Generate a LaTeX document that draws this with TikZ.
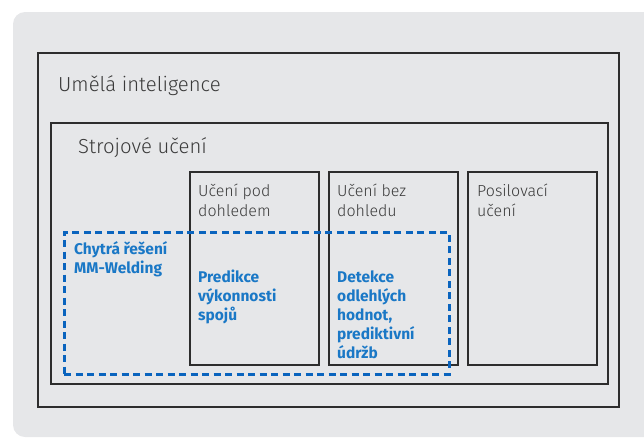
\documentclass[tikz,border=0pt]{standalone}
\usepackage{fontspec}
\setmainfont{Fira Sans}
\newfontfamily\lightfont{Fira Sans Light}
\definecolor{bgfill}{HTML}{E6E7E9}
\definecolor{boxline}{HTML}{2D2D2D}
\definecolor{graytext}{HTML}{3A3A3A}
\definecolor{dashblue}{HTML}{0A64BE}
\definecolor{bluetext}{HTML}{1A78C6}
\begin{document}
\begin{tikzpicture}[x=1pt,y=-1pt,
  box/.style={draw=boxline, line width=1.2pt, inner sep=0pt, outer sep=0pt, rectangle},
  bigtext/.style={font=\lightfont\fontsize{20.3}{24}\selectfont, text=graytext, inner sep=0pt, anchor=base west},
  smalltext/.style={font=\lightfont\fontsize{16}{20}\selectfont, text=graytext, inner sep=0pt, anchor=base west, align=left},
  bluelabel/.style={font=\fontsize{15.5}{19}\selectfont\bfseries, text=bluetext, inner sep=0pt, anchor=base west, align=left},
  dashbox/.style={draw=dashblue, line width=3pt, dash pattern=on 7pt off 4.5pt, inner sep=0pt, outer sep=0pt, rectangle}
]
\useasboundingbox (0,0) rectangle (644,437);
\fill[bgfill, rounded corners=12pt] (13,12) rectangle (660,437);
\fill[white] (644,0) rectangle (660,437);

\node[box, minimum width=581pt, minimum height=354pt] (ai) at (328.5,230) {};
\node[box, minimum width=557pt, minimum height=261pt] (ml) at (329.5,253.5) {};
\node[box, minimum width=129pt, minimum height=193pt] (sup) at (254.5,268.5) {};
\node[box, minimum width=129pt, minimum height=193pt] (uns) at (393.5,268.5) {};
\node[box, minimum width=129pt, minimum height=193pt] (rl) at (532.5,268.5) {};
\node[dashbox, minimum width=385pt, minimum height=142pt] (mm) at (256.5,303) {};

\node[bigtext] (aitext) at (58,91) {Umělá inteligence};
\node[bigtext] (mltext) at (78,153) {Strojové učení};
\node[smalltext] (suptext) at (198,216) {Učení pod\\dohledem};
\node[smalltext] (unstext) at (337,216) {Učení bez\\dohledu};
\node[smalltext] (rltext) at (477,216) {Posilovací\\učení};

\node[bluelabel] (mmtext) at (74,273) {Chytrá řešení\\MM-Welding};
\node[bluelabel] (predtext) at (198,320) {Predikce\\výkonnosti\\spojů};
\node[bluelabel] (dettext) at (337,358) {Detekce\\odlehlých\\hodnot,\\prediktivní\\údržb};
\end{tikzpicture}
\end{document}
